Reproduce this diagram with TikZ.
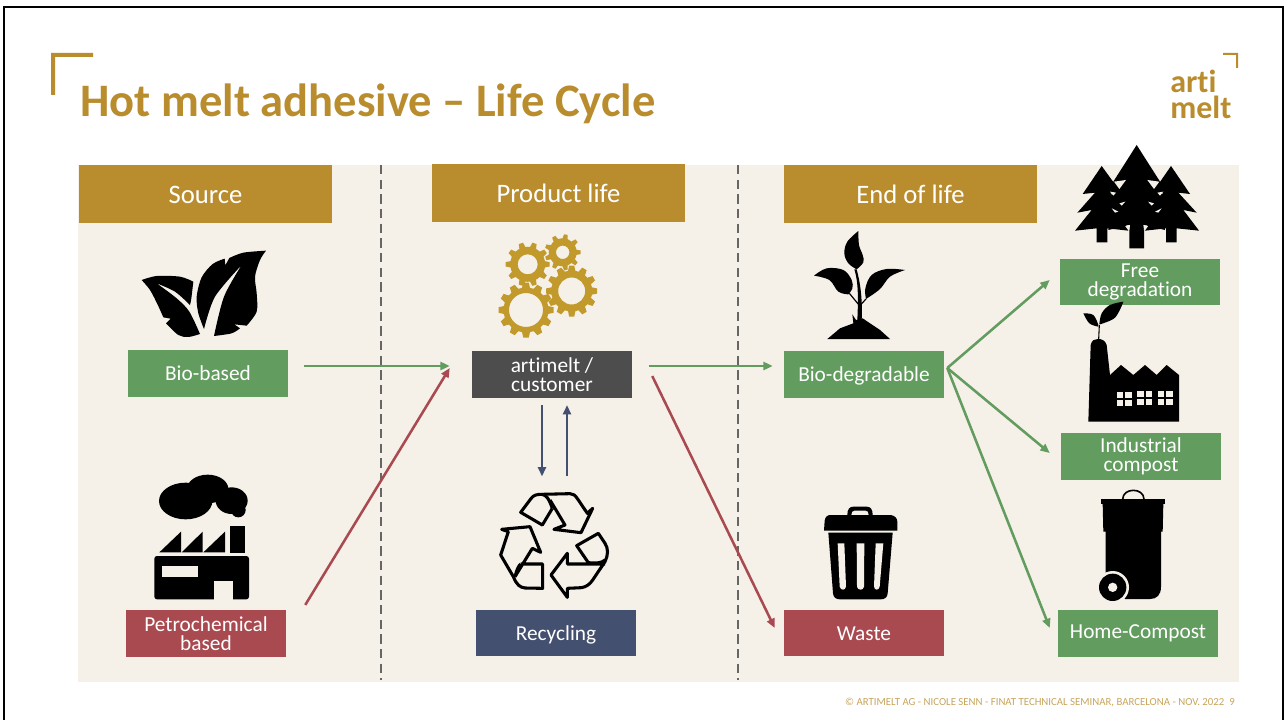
\documentclass[tikz,border=0pt]{standalone}
\usepackage{fontspec}
\setmainfont{Carlito}[RawFeature=-liga]
\usetikzlibrary{arrows.meta}
\definecolor{gold}{HTML}{B98C2E}
\definecolor{goldlt}{HTML}{C8A55C}
\definecolor{gearc}{HTML}{C29A2C}
\definecolor{paper}{HTML}{F5F0E8}
\definecolor{gr}{HTML}{629C5F}
\definecolor{rd}{HTML}{A94A50}
\definecolor{nv}{HTML}{44506F}
\definecolor{dk}{HTML}{4D4D4D}
\definecolor{sepc}{HTML}{666666}
\tikzset{
 headbox/.style={fill=gold,text=white,minimum width=189.75pt,minimum height=43.5pt,inner sep=0pt,align=center,text height=18pt,text depth=4pt,font=\fontsize{20}{22}\selectfont},
 tagbox/.style={text=white,minimum width=120pt,minimum height=35pt,inner sep=0pt,align=center,font=\fontsize{16}{14}\selectfont},
 oneline/.style={text height=14.7pt,text depth=3.5pt},
 flow/.style={line width=1.9pt,-{Triangle[length=7pt,width=6pt]}},
 sep/.style={draw=sepc,line width=1.3pt,dash pattern=on 7pt off 4pt},
 iconz/.style={x=.25pt,y=-.25pt},
 ink/.style={fill=black},
 rec/.style={draw=black,line width=2.3pt,line join=round,fill=none}
}
\newcommand{\gearicon}[6]{%
 \begin{scope}[shift={(#1,#2)}]
  \fill[gearc,even odd rule] (0,0) circle[radius=#4] (0,0) circle[radius=#5];
  \foreach \a in {1,...,#6}
   \fill[gearc,rotate=\a*360/#6] ({#4-1},{-0.15*#3}) -- (#3,{-0.1*#3}) -- (#3,{0.1*#3}) -- ({#4-1},{0.15*#3}) -- cycle;
 \end{scope}}
\begin{document}
\begin{tikzpicture}[x=.75pt,y=-.75pt]
\useasboundingbox (0,0) rectangle (1284,720);
\fill[white] (0,0) rectangle (1284,720);
% frame
\draw[line width=1.6pt] (4,720) -- (4,7) -- (1283,7) -- (1283,720);
% brackets
\fill[gold] (51,53) -- (93,53) -- (93,57) -- (55,57) -- (55,95) -- (51,95) -- cycle;
\fill[gold] (1223,53) -- (1238,53) -- (1238,68) -- (1236,68) -- (1236,55) -- (1223,55) -- cycle;
% title + logo
\node[anchor=base west,inner sep=0pt,text=gold,font=\fontsize{34.9}{38}\selectfont\bfseries] (title) at (80,116.5) {Hot melt adhesive – Life Cycle};
\node[anchor=south west,inner sep=0pt,text=gold,align=left,font=\fontsize{24}{19.5}\selectfont\bfseries] (logo) at (1170,119) {arti\\melt};
% background
\fill[paper] (78,165) rectangle (1239,682);
\draw[sep] (381,165) -- (381,680);
\draw[sep] (738,165) -- (738,680);
% headers
\node[headbox] (source) at (205.5,194) {Source};
\node[headbox] (prod) at (558.5,193) {Product life};
\node[headbox] (eol) at (910.5,194) {End of life};
% tags
\node[tagbox,oneline,fill=gr] (bio) at (208,373.5) {Bio-based};
\node[tagbox,fill=rd] (petro) at (206,633.5) {Petrochemical\\based};
\node[tagbox,fill=dk] (art) at (552,374.5) {artimelt /\\customer};
\node[tagbox,oneline,fill=nv] (recy) at (556,633) {Recycling};
\node[tagbox,oneline,fill=gr] (biod) at (864,374.5) {Bio-degradable};
\node[tagbox,oneline,fill=rd] (waste) at (864,633) {Waste};
\node[tagbox,fill=gr] (free) at (1140,282) {Free\\degradation};
\node[tagbox,fill=gr] (ind) at (1141,456.5) {Industrial\\compost};
\node[tagbox,fill=gr] (home) at (1138,633.5) {Home-Compost};
% connectors
\draw[flow,gr] ([shift={(16,-7.5)}]bio.east) -- ([shift={(-22,-8.5)}]art.west);
\draw[flow,rd] ([shift={(19,-5)}]petro.north east) -- ([shift={(-22,-6.5)}]art.west);
\draw[flow,gr] ([shift={(17,-8.5)}]art.east) -- ([shift={(-11,-8.5)}]biod.west);
\draw[flow,rd] ([shift={(20,-22)}]art.south east) -- ([shift={(-9,-5)}]waste.west);
\draw[flow,nv] ([shift={(-10,7)}]art.south) -- ([shift={(-14,-133)}]recy.north);
\draw[flow,nv] ([shift={(11,-133)}]recy.north) -- ([shift={(15,7)}]art.south);
\draw[flow,gr] ([shift={(3,-6.5)}]biod.east) -- ([shift={(-10,-2)}]free.west);
\draw[flow,gr] ([shift={(3,-6.5)}]biod.east) -- ([shift={(-11,-3.5)}]ind.west);
\draw[flow,gr] ([shift={(3,-6.5)}]biod.east) -- ([shift={(-8,-5.5)}]home.west);
% leaves
\begin{scope}[shift={(100,230)},iconz]
 \fill[ink] plot[smooth,tension=.5] coordinates {(125,150) (170,138) (240,140) (280,155)} -- plot[smooth,tension=.5] coordinates {(280,155) (274,205) (270,225)} -- plot[smooth,tension=.5] coordinates {(270,225) (225,185) (170,160)} -- plot[smooth,tension=.5] coordinates {(170,160) (230,205) (268,245) (300,312)} -- plot[smooth,tension=.5] coordinates {(300,312) (265,321) (235,315) (198,280)} -- (212,266) -- (190,262) -- plot[smooth,tension=.5] coordinates {(190,262) (172,222) (150,180) (125,150)} -- cycle;
 \fill[ink] plot[smooth,tension=.5] coordinates {(498,62) (430,68) (388,84)} -- (376,106) -- (374,86) -- plot[smooth,tension=.5] coordinates {(374,86) (338,102) (305,142) (290,200) (295,250) (312,297)} -- plot[smooth,tension=.5] coordinates {(312,297) (345,200) (425,105)} -- plot[smooth,tension=.5] coordinates {(425,105) (372,200) (342,318)} -- plot[smooth,tension=.5] coordinates {(342,318) (395,310) (420,295)} -- (403,283) -- (440,287) -- plot[smooth,tension=.5] coordinates {(440,287) (470,245) (470,190) (465,140) (480,90) (498,62)} -- cycle;
\end{scope}
% factory with clouds
\begin{scope}[shift={(120,460)},iconz]
 \fill[ink] (197,123) ellipse[x radius=80,y radius=55];
 \fill[ink] (263,87) ellipse[x radius=62,y radius=43];
 \fill[ink] (335,122) ellipse[x radius=48,y radius=40];
 \fill[ink] (355,150) circle[radius=22];
 \fill[ink] (118,277) -- (183,215) -- (183,277) -- cycle;
 \fill[ink] (185,277) -- (248,215) -- (248,277) -- cycle;
 \fill[ink] (250,277) -- (315,215) -- (315,277) -- cycle;
 \fill[ink] (330,198) rectangle (375,280);
 \fill[ink,rounded corners=2pt] (103,288) rectangle (387,418);
 \fill[paper] (125,317) rectangle (235,352);
 \fill[paper] (282,363) rectangle (338,420);
\end{scope}
% gears
\gearicon{526}{310}{27.5}{22.5}{17}{12}
\gearicon{571.7}{291}{25.5}{20.5}{13.5}{12}
\gearicon{527.7}{264.3}{22}{17.5}{10}{10}
\gearicon{562.7}{252.3}{18}{14}{6.7}{9}
% recycling
\begin{scope}[shift={(480,480)},iconz]
 \draw[rec] (210,60) -- (255,135) -- (222,148) -- (303,158) -- (338,85) -- (322,100) -- (295,60) .. controls (285,45) and (280,41) .. (270,41) -- (185,43) .. controls (170,43) and (160,45) .. (152,57) -- (122,97) -- (187,135) -- (217,85);
 \draw[rec] (185,43) .. controls (198,45) and (205,52) .. (217,85);
 \draw[rec] (105,290) -- (157,205) -- (182,217) -- (150,140) -- (65,148) -- (85,155) -- (62,225) -- (100,290) .. controls (110,315) and (120,322) .. (135,324) -- (188,325) -- (188,252) -- (122,252);
 \draw[rec] (105,290) .. controls (110,270) and (115,258) .. (122,252);
 \draw[rec] (375,252) -- (262,252) -- (262,220) -- (213,285) -- (262,352) -- (262,325) -- (305,323) .. controls (320,320) and (330,312) .. (338,300) -- (375,245) .. controls (385,225) and (385,205) .. (375,190) -- (355,160) -- (290,197) -- (325,248);
 \draw[rec] (325,248) .. controls (345,250) and (365,250) .. (375,240);
\end{scope}
% plant
\begin{scope}[shift={(790,225)},iconz]
 \fill[ink] plot[smooth,tension=.6] coordinates {(205,18) (172,50) (163,85) (175,115) (200,133)} -- plot[smooth,tension=.6] coordinates {(200,133) (220,112) (218,90) (207,60) (205,18)} -- cycle;
 \fill[ink] plot[smooth,tension=.6] coordinates {(72,152) (110,130) (160,135) (185,165) (187,190) (175,208)} -- plot[smooth,tension=.6] coordinates {(175,208) (145,200) (118,165) (72,152)} -- cycle;
 \fill[ink] plot[smooth,tension=.6] coordinates {(345,135) (290,132) (245,150) (226,190) (228,222)} -- plot[smooth,tension=.6] coordinates {(228,222) (270,192) (300,155) (345,135)} -- cycle;
 \fill[ink] (193,133) .. controls (205,170) and (205,220) .. (202,285) -- (215,285) .. controls (218,220) and (210,170) .. (200,133) -- cycle;
 \draw[line width=.9pt] (178,205) -- (207,240);
 \draw[line width=.9pt] (228,222) -- (213,238);
 \fill[ink] (112,342) -- (150,310) -- (190,295) -- (187,268) -- (198,285) -- (218,280) -- (240,295) -- (270,315) -- (300,342) -- cycle;
\end{scope}
% trees
\begin{scope}[shift={(1050,40)},iconz]
 \fill[ink] (155,378) -- (216,462) -- (180,458) -- (235,518) -- (190,510) -- (235,572) -- (172,565) -- (172,607) -- (140,607) -- (140,565) -- (75,572) -- (125,510) -- (82,518) -- (135,458) -- (98,462) -- cycle;
 \fill[ink] (363,378) -- (420,462) -- (385,458) -- (440,518) -- (400,510) -- (447,572) -- (380,565) -- (380,607) -- (348,607) -- (348,565) -- (285,572) -- (330,510) -- (285,518) -- (340,458) -- (305,462) -- cycle;
 \fill[ink] (260,315) -- (332,428) -- (345,570) -- (282,555) -- (282,625) -- (238,625) -- (238,555) -- (175,570) -- (188,428) -- cycle;
 \foreach \m in {1,-1}{
  \begin{scope}[shift={(260,0)},xscale=\m]
   \fill[paper] (-68,425) -- (-32,420) -- (-52,447) -- cycle;
   \fill[paper] (-80,455) -- (-62,458) -- (-70,467) -- cycle;
   \fill[paper] (-52,490) -- (-34,485) -- (-45,497) -- cycle;
   \fill[paper] (-75,505) -- (-55,515) -- (-65,518) -- cycle;
   \fill[paper] (-32,557) -- (-20,555) -- (-22,570) -- cycle;
  \end{scope}}
\end{scope}
% factory with sprout
\begin{scope}[shift={(1060,295)},iconz]
 \fill[ink] (85,380) -- (92,150) .. controls (95,135) and (105,132) .. (113,132) .. controls (125,132) and (135,135) .. (140,150) -- (150,240) -- (183,210) -- (220,240) -- (255,210) -- (290,240) -- (320,210) -- (357,240) -- (357,380) -- cycle;
 \foreach \wx/\wy in {170/290,232/288,293/288}{
  \fill[paper] (\wx,\wy) rectangle ++(20,19);
  \fill[paper] (\wx+25,\wy) rectangle ++(20,19);
  \fill[paper] (\wx,\wy+24) rectangle ++(20,19);
  \fill[paper] (\wx+25,\wy+24) rectangle ++(20,19);
 }
 \draw[line width=.8pt] (116,132) -- (118,90);
 \fill[ink] plot[smooth,tension=.6] coordinates {(70,55) (100,60) (115,90)} -- plot[smooth,tension=.6] coordinates {(115,95) (88,85) (70,55)} -- cycle;
 \fill[ink] plot[smooth,tension=.6] coordinates {(190,20) (150,30) (125,55) (118,88)} -- plot[smooth,tension=.6] coordinates {(120,88) (160,72) (178,48) (190,20)} -- cycle;
\end{scope}
% wheelie bin
\begin{scope}[shift={(1080,480)},iconz]
 \draw[line width=1.2pt] (128,58) .. controls (128,22) and (192,22) .. (192,58);
 \fill[ink] (62,57) rectangle (256,72);
 \fill[ink] (68,72) -- (70,155) -- (77,155) -- (77,320) -- (135,357) -- (210,357) .. controls (230,357) and (243,345) .. (243,320) -- (243,155) -- (248,155) -- (250,72) -- cycle;
 \fill[paper] (98,322) circle[radius=49];
 \fill[ink] (98,322) circle[radius=41];
 \fill[paper] (98,322) circle[radius=14];
\end{scope}
% trash can
\begin{scope}[shift={(810,500)},iconz]
 \fill[ink] (112,45) .. controls (112,28) and (118,20) .. (130,20) -- (170,20) .. controls (182,20) and (188,28) .. (188,45) -- cycle;
 \fill[paper] (124,45) .. controls (124,36) and (128,32) .. (134,32) -- (166,32) .. controls (172,32) and (176,36) .. (176,45) -- cycle;
 \fill[ink] (42,92) -- (44,62) .. controls (46,50) and (52,45) .. (62,45) -- (242,45) .. controls (255,47) and (262,55) .. (262,65) -- (262,92) -- cycle;
 \fill[ink] (55,98) -- (248,98) -- (233,280) .. controls (232,292) and (225,298) .. (212,298) -- (90,298) .. controls (78,298) and (70,292) .. (69,280) -- cycle;
 \fill[paper] (83,130) -- (103,130) -- (108,260) .. controls (106,272) and (92,272) .. (89,260) -- cycle;
 \fill[paper] (140,130) -- (163,130) -- (162,260) .. controls (160,272) and (143,272) .. (141,260) -- cycle;
 \fill[paper] (197,130) -- (220,130) -- (209,260) .. controls (206,272) and (194,272) .. (192,260) -- cycle;
\end{scope}
% footer
\node[anchor=base east,inner sep=0pt,text=goldlt,font=\fontsize{8.1}{9}\selectfont] (foot) at (1235,705) {© ARTIMELT AG - NICOLE SENN - FINAT TECHNICAL SEMINAR, BARCELONA - NOV. 2022\ \ 9};
\end{tikzpicture}
\end{document}
